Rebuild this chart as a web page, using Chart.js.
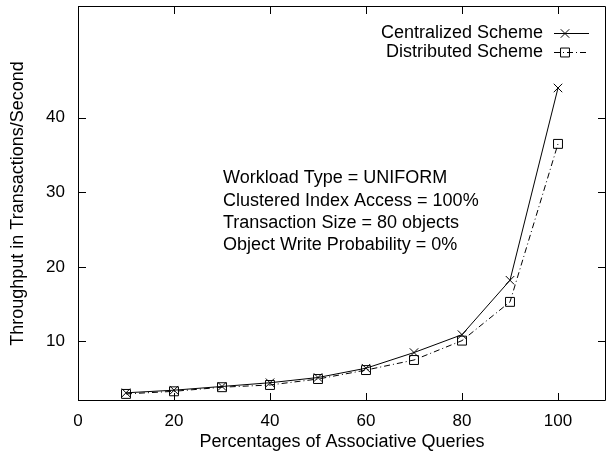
<!DOCTYPE html>
<html lang="en">
<head>
    <meta charset="UTF-8">
    <title>Throughput vs Associative Queries</title>
    <style>
        body {
            margin: 0;
            background: #fff;
        }
        #wrap {
            width: 607px;
            height: 452px;
        }
    </style>
    <script src="https://cdn.jsdelivr.net/npm/chart.js"></script>
</head>
<body>
<div id="wrap">
    <canvas id="myChart" width="607" height="452"></canvas>
</div>
<script>
    // values
    const percentages = [10, 20, 30, 40, 50, 60, 70, 80, 90, 100];
    const centralized = [3.1, 3.45, 3.95, 4.45, 5.15, 6.4, 8.5, 10.9, 18.2, 44.0];
    const distributed = [2.95, 3.3, 3.85, 4.15, 4.95, 6.15, 7.5, 10.1, 15.3, 36.5];

    const xTicks = [0, 20, 40, 60, 80, 100];
    const yTicks = [10, 20, 30, 40];

    const seriesNames = ['Centralized Scheme', 'Distributed Scheme'];
    const notes = [
        'Workload Type = UNIFORM',
        'Clustered Index Access = 100%',
        'Transaction Size = 80 objects',
        'Object Write Probability = 0%'
    ];

    const FONT = '"Liberation Sans", Arial, Helvetica, sans-serif';

    function toPoints(xs, ys) {
        return xs.map(function (x, i) { return {x: x, y: ys[i]}; });
    }

    function drawMarker(ctx, style, r, x, y) {
        ctx.save();
        ctx.strokeStyle = '#000';
        ctx.lineWidth = 1;
        ctx.setLineDash([]);
        ctx.beginPath();
        if (style === 'crossRot') {
            let d = r * Math.SQRT1_2;
            ctx.moveTo(x - d, y - d); ctx.lineTo(x + d, y + d);
            ctx.moveTo(x + d, y - d); ctx.lineTo(x - d, y + d);
        } else {
            let s = r * Math.SQRT1_2;
            ctx.rect(x - s, y - s, 2 * s, 2 * s);
        }
        ctx.stroke();
        ctx.restore();
    }

    // gnuplot style frame, inward ticks, key and label
    const framePlugin = {
        id: 'frame',
        afterDraw(chart) {
            const ctx = chart.ctx;
            const a = chart.chartArea;
            const xs = chart.scales.x;
            const ys = chart.scales.y;
            const tl = 8;
            ctx.save();
            ctx.strokeStyle = '#000';
            ctx.lineWidth = 1;
            ctx.beginPath();
            ctx.rect(a.left + 0.5, a.top + 0.5, a.right - a.left - 1, a.bottom - a.top - 1);
            xTicks.forEach(function (v) {
                let px = Math.round(xs.getPixelForValue(v)) + 0.5;
                ctx.moveTo(px, a.bottom); ctx.lineTo(px, a.bottom - tl);
                ctx.moveTo(px, a.top); ctx.lineTo(px, a.top + tl);
            });
            yTicks.forEach(function (v) {
                let py = Math.round(ys.getPixelForValue(v)) + 0.5;
                ctx.moveTo(a.left, py); ctx.lineTo(a.left + tl, py);
                ctx.moveTo(a.right, py); ctx.lineTo(a.right - tl, py);
            });
            ctx.stroke();

            // key
            ctx.font = '18px ' + FONT;
            ctx.fillStyle = '#000';
            ctx.textAlign = 'right';
            ctx.textBaseline = 'middle';
            chart.data.datasets.forEach(function (ds, i) {
                let y = 33 + i * 18.7;
                ctx.fillText(ds.label, 543, y);
                ctx.save();
                ctx.setLineDash(ds.borderDash || []);
                ctx.beginPath();
                ctx.moveTo(554, Math.round(y) + 0.5);
                ctx.lineTo(589, Math.round(y) + 0.5);
                ctx.stroke();
                ctx.restore();
                drawMarker(ctx, ds.pointStyle, ds.pointRadius, 565, Math.round(y) + 0.5);
            });

            // parameter label
            ctx.textAlign = 'left';
            notes.forEach(function (t, i) {
                ctx.fillText(t, 223, 178.5 + i * 22.1);
            });
            ctx.restore();
        }
    };

    const ctx = document.getElementById('myChart').getContext('2d');
    const myChart = new Chart(ctx, {
        type: 'line',
        data: {
            datasets: [{
                label: seriesNames[0],
                data: toPoints(percentages, centralized),
                borderColor: '#000',
                borderWidth: 1,
                pointStyle: 'crossRot',
                pointRadius: 6,
                pointBorderColor: '#000',
                pointBorderWidth: 1,
                pointBackgroundColor: 'rgba(0,0,0,0)',
                fill: false,
                tension: 0
            }, {
                label: seriesNames[1],
                data: toPoints(percentages, distributed),
                borderColor: '#000',
                borderWidth: 1,
                borderDash: [6, 3, 1, 3],
                pointStyle: 'rect',
                pointRadius: 6.3,
                pointBorderColor: '#000',
                pointBorderWidth: 1,
                pointBackgroundColor: 'rgba(0,0,0,0)',
                fill: false,
                tension: 0
            }]
        },
        options: {
            responsive: false,
            animation: false,
            devicePixelRatio: 1,
            layout: {
                autoPadding: false,
                padding: {top: 6, right: 1, left: 0, bottom: 0}
            },
            plugins: {
                legend: {display: false},
                tooltip: {enabled: false}
            },
            scales: {
                x: {
                    type: 'linear',
                    min: 0,
                    max: 110,
                    grid: {display: false, drawTicks: false},
                    border: {display: false},
                    afterBuildTicks: function (s) {
                        s.ticks = xTicks.map(function (v) { return {value: v}; });
                    },
                    afterFit: function (s) {
                        s.height = 51;
                        s.paddingLeft = 0; s.paddingRight = 0;
                        s.paddingTop = 0; s.paddingBottom = 0;
                    },
                    ticks: {
                        padding: 10,
                        maxRotation: 0,
                        color: '#000',
                        font: {family: FONT, size: 17}
                    },
                    title: {
                        display: true,
                        text: 'Percentages of Associative Queries',
                        color: '#000',
                        padding: {top: 0, bottom: -1},
                        font: {family: FONT, size: 18}
                    }
                },
                y: {
                    type: 'linear',
                    min: 2,
                    max: 55,
                    grid: {display: false, drawTicks: false},
                    border: {display: false},
                    afterBuildTicks: function (s) {
                        s.ticks = yTicks.map(function (v) { return {value: v}; });
                    },
                    afterFit: function (s) {
                        s.width = 78;
                        s.paddingLeft = 0; s.paddingRight = 0;
                        s.paddingTop = 0; s.paddingBottom = 0;
                    },
                    ticks: {
                        padding: 13,
                        color: '#000',
                        font: {family: FONT, size: 17}
                    },
                    title: {
                        display: true,
                        text: 'Throughput in Transactions/Second',
                        color: '#000',
                        padding: {top: 7.5, bottom: 0},
                        font: {family: FONT, size: 18}
                    }
                }
            }
        },
        plugins: [framePlugin]
    });
</script>
</body>
</html>
